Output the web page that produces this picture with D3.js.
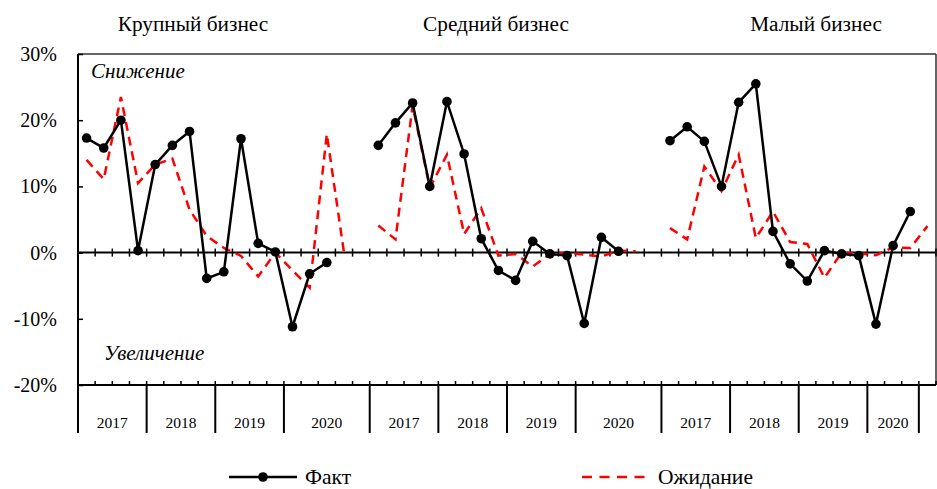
<!DOCTYPE html>
<html>
<head>
<meta charset="utf-8">
<script src="https://cdn.jsdelivr.net/npm/d3@7"></script>
<style>
  body { margin: 0; background: #fff; }
  svg text { font-family: "Liberation Serif", "Times New Roman", serif; fill: #000; }
</style>
</head>
<body>
<svg id="chart" width="937" height="489"></svg>
<script>
// segment titles
const segmentNames = ["Крупный бизнес", "Средний бизнес", "Малый бизнес"];

// year label of every quarter slot (multi-level category axis)
const catLarge = ["2017","2017","2017","2017","2018","2018","2018","2018","2019","2019","2019","2019","2020","2020","2020","2020","2020"];
const catMid   = ["2017","2017","2017","2017","2018","2018","2018","2018","2019","2019","2019","2019","2020","2020","2020","2020","2020"];
const catSmall = ["2017","2017","2017","2017","2018","2018","2018","2018","2019","2019","2019","2019","2020","2020","2020",""];

// Факт, %
const factLarge = [17.3, 15.8, 20.0, 0.3, 13.3, 16.2, 18.3, -3.9, -2.9, 17.2, 1.4, 0.1, -11.2, -3.2, -1.5, null, null];
const factMid   = [16.2, 19.6, 22.6, 10.0, 22.8, 14.9, 2.1, -2.7, -4.2, 1.7, -0.2, -0.45, -10.7, 2.3, 0.2, null, null];
const factSmall = [16.9, 19.0, 16.8, 10.0, 22.7, 25.5, 3.2, -1.7, -4.3, 0.3, -0.2, -0.45, -10.8, 1.05, 6.2, null];

// Ожидание, %
const expLarge = [14.0, 11.1, 23.5, 10.5, 13.3, 14.2, 6.5, 2.5, 0.7, -0.5, -3.6, 0.0, -2.7, -5.3, 17.9, 0.0, null];
const expMid   = [4.1, 2.0, 22.2, 9.8, 14.8, 2.8, 6.7, -0.45, -0.2, -2.1, -0.2, 0.0, -0.3, -0.6, 0.3, 0.2, null];
const expSmall = [3.7, 2.0, 13.0, 9.3, 14.8, 2.2, 6.2, 1.6, 1.3, -3.8, 0.0, -0.1, -0.4, 0.8, 0.7, 4.0];

const yTicks = [-20, -10, 0, 10, 20, 30];
const legendNames = ["Факт", "Ожидание"];

const FONT = '"Liberation Serif", "Times New Roman", serif';
const svg = d3.select("#chart");
const plotL = 78, plotR = 936, plotT = 54, plotB = 385;

// flatten the three segments into one row of slots
const cats = [catLarge, catMid, catSmall];
const facts = [factLarge, factMid, factSmall];
const exps = [expLarge, expMid, expSmall];
let slots = [];
cats.forEach((c, s) => {
  c.forEach((year, i) => {
    slots.push({seg: s, year: year, fact: facts[s][i], exp: exps[s][i]});
  });
});
slots.forEach((d, i) => d.i = i);

const x = d3.scaleBand().domain(d3.range(slots.length)).range([plotL, plotR]).padding(0);
const y = d3.scaleLinear().domain([-20, 30]).range([plotB, plotT]);
const step = x.step();
const cx = (i) => x(i) + step / 2;

function label(px, py, str, size, italic) {
  return svg.append("text").attr("x", px).attr("y", py)
    .attr("font-family", FONT).attr("font-size", size)
    .attr("font-style", italic ? "italic" : "normal").text(str);
}

// frame: top and right border
svg.append("line").attr("x1", plotL).attr("x2", plotR).attr("y1", plotT).attr("y2", plotT)
  .attr("stroke", "#333").attr("stroke-width", 1.5);
svg.append("line").attr("x1", plotR).attr("x2", plotR).attr("y1", plotT).attr("y2", plotB)
  .attr("stroke", "#333").attr("stroke-width", 1.5);

// y axis
let yAxis = d3.axisLeft(y).tickValues(yTicks).tickFormat((d) => d + "%").tickSize(-5).tickPadding(21);
let yg = svg.append("g").attr("transform", `translate(${plotL},0)`).call(yAxis)
  .attr("font-family", FONT).attr("font-size", 20);
yg.select(".domain").remove();
yg.selectAll(".tick line").attr("stroke", "#000").attr("stroke-width", 1.5);
yg.selectAll(".tick text").attr("fill", "#000");
svg.append("line").attr("x1", plotL).attr("x2", plotL).attr("y1", plotT).attr("y2", 433)
  .attr("stroke", "#000").attr("stroke-width", 2);

// horizontal lines at 0 and -20 with slot ticks
const bounds = d3.range(slots.length + 1).map((i) => plotL + i * step);
[0, -20].forEach((v) => {
  svg.append("line").attr("x1", plotL).attr("x2", plotR).attr("y1", y(v)).attr("y2", y(v))
    .attr("stroke", "#000").attr("stroke-width", 2);
  svg.selectAll(null).data(bounds.slice(1)).enter().append("line")
    .attr("x1", (d) => d).attr("x2", (d) => d)
    .attr("y1", y(v) - 4).attr("y2", v == 0 ? y(v) + 4 : y(v))
    .attr("stroke", "#000").attr("stroke-width", 1.5);
});

// year groups below the axis
let groups = [];
slots.forEach((d) => {
  let g = groups[groups.length - 1];
  if (g && g.seg == d.seg && g.year == d.year) {
    g.end = d.i;
  } else {
    groups.push({seg: d.seg, year: d.year, start: d.i, end: d.i});
  }
});
groups.forEach((g, k) => {
  let x0 = x(g.start), x1 = x(g.end) + step;
  if (k > 0) {
    svg.append("line").attr("x1", x0).attr("x2", x0).attr("y1", plotB).attr("y2", 433)
      .attr("stroke", "#000").attr("stroke-width", 2);
  }
  label((x0 + x1) / 2, 428, g.year, 15.5).attr("text-anchor", "middle");
});

// segment titles
const titleX = [193, 496, 816];
segmentNames.forEach((name, s) => {
  label(titleX[s], 31, name, 21.3).attr("text-anchor", "middle");
});

label(91, 78, "Снижение", 21, true);
label(104, 360, "Увеличение", 21, true);

// series, drawn per segment
segmentNames.forEach((name, s) => {
  let segSlots = slots.filter((d) => d.seg == s);

  let expLine = d3.line().defined((d) => d.exp != null).x((d) => cx(d.i)).y((d) => y(d.exp));
  svg.append("path").datum(segSlots).attr("d", expLine)
    .attr("fill", "none").attr("stroke", "#ff0000").attr("stroke-width", 2.5)
    .attr("stroke-dasharray", "9,6");

  let factLine = d3.line().defined((d) => d.fact != null).x((d) => cx(d.i)).y((d) => y(d.fact));
  svg.append("path").datum(segSlots).attr("d", factLine)
    .attr("fill", "none").attr("stroke", "#000").attr("stroke-width", 2.5);

  svg.selectAll(null).data(segSlots.filter((d) => d.fact != null)).enter().append("circle")
    .attr("cx", (d) => cx(d.i)).attr("cy", (d) => y(d.fact)).attr("r", 4.8).attr("fill", "#000");
});

// legend
let lg = svg.append("g");
lg.append("line").attr("x1", 229).attr("x2", 297).attr("y1", 477).attr("y2", 477)
  .attr("stroke", "#000").attr("stroke-width", 2.5);
lg.append("circle").attr("cx", 263).attr("cy", 477).attr("r", 4.8).attr("fill", "#000");
label(305, 484, legendNames[0], 21.5);
lg.append("line").attr("x1", 582).attr("x2", 648).attr("y1", 477).attr("y2", 477)
  .attr("stroke", "#ff0000").attr("stroke-width", 2.5).attr("stroke-dasharray", "10,7.5");
label(658, 484, legendNames[1], 21.5);
</script>
</body>
</html>
